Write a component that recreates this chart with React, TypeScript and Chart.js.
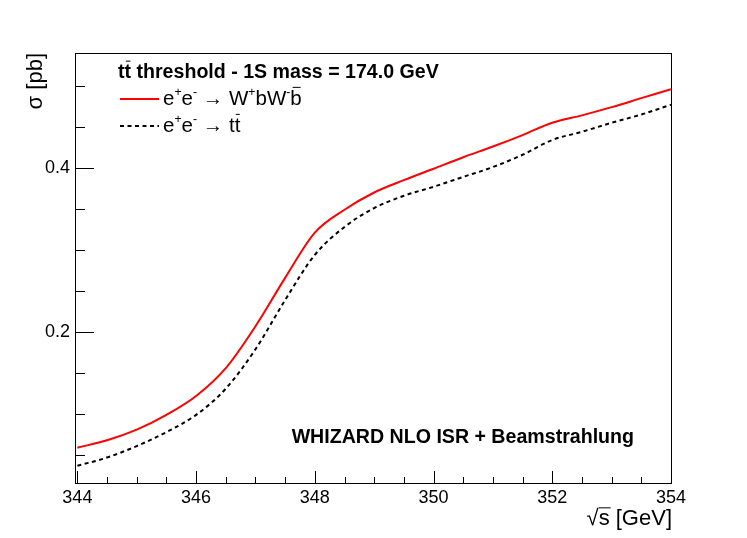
import React, { useEffect, useRef } from "react";
import { Chart, registerables } from "chart.js";

Chart.register(...registerables);

// ---- data ----
const energies = [344, 344.5, 345, 345.5, 346, 346.5, 347, 347.5, 348, 348.5, 349, 349.5, 350, 350.5, 351, 351.5, 352, 352.5, 353, 353.5, 354];
const wbwbXsec = [0.059, 0.068, 0.081, 0.099, 0.122, 0.156, 0.207, 0.266, 0.321, 0.349, 0.370, 0.385, 0.399, 0.413, 0.426, 0.440, 0.455, 0.464, 0.474, 0.485, 0.496];
const ttXsec = [0.037, 0.047, 0.061, 0.078, 0.099, 0.131, 0.179, 0.239, 0.294, 0.328, 0.351, 0.366, 0.377, 0.389, 0.401, 0.416, 0.434, 0.444, 0.455, 0.465, 0.477];
const xMajorTicks = [344, 346, 348, 350, 352, 354];
const xMinorTicks = [344, 344.5, 345, 345.5, 346, 346.5, 347, 347.5, 348, 348.5, 349, 349.5, 350, 350.5, 351, 351.5, 352, 352.5, 353, 353.5, 354];
const yMajorTicks = [0.2, 0.4];
const yMinorTicks = [0.05, 0.1, 0.15, 0.2, 0.25, 0.3, 0.35, 0.4, 0.45, 0.5];
const yTitle = "σ [pb]";
const xTitle = "√s [GeV]";
const footText = "WHIZARD NLO ISR + Beamstrahlung";

type Seg = { t: string; sup?: boolean; bar?: boolean };

const titleSegs: Seg[] = [{ t: "t" }, { t: "t", bar: true }, { t: " threshold - 1S mass = 174.0 GeV" }];
const legendWbWb: Seg[] = [
  { t: "e" }, { t: "+", sup: true }, { t: "e" }, { t: "-", sup: true },
  { t: " \u2192 W" }, { t: "+", sup: true }, { t: "bW" }, { t: "-", sup: true }, { t: "b", bar: true },
];
const legendTT: Seg[] = [
  { t: "e" }, { t: "+", sup: true }, { t: "e" }, { t: "-", sup: true },
  { t: " \u2192 t" }, { t: "t", bar: true },
];

const FONT = '"Liberation Sans", Arial, Helvetica, sans-serif';

function drawRich(ctx: CanvasRenderingContext2D, x: number, y: number, segs: Seg[], size: number, weight: string) {
  let cx = x;
  ctx.textAlign = "left";
  ctx.textBaseline = "alphabetic";
  for (const s of segs) {
    const sz = s.sup ? size * 0.6 : size;
    ctx.font = `${weight} ${sz}px ${FONT}`;
    const dy = s.sup ? -size * 0.45 : 0;
    ctx.fillText(s.t, cx, y + dy);
    const w = ctx.measureText(s.t).width;
    if (s.bar) {
      ctx.save();
      ctx.lineWidth = 1;
      ctx.beginPath();
      ctx.moveTo(cx + w * 0.2, y - size * 0.86);
      ctx.lineTo(cx + w * 0.9, y - size * 0.86);
      ctx.stroke();
      ctx.restore();
    }
    cx += w;
  }
}

const rootStylePlugin = {
  id: "rootStyle",
  afterDraw(chart: any) {
    const ctx: CanvasRenderingContext2D = chart.ctx;
    const { left, right, top, bottom } = chart.chartArea;
    const xs = chart.scales.x;
    const ys = chart.scales.y;
    ctx.save();
    ctx.strokeStyle = "#000";
    ctx.fillStyle = "#000";
    ctx.lineWidth = 1;
    // frame
    ctx.strokeRect(Math.round(left) + 0.5, Math.round(top) + 0.5, Math.round(right - left), Math.round(bottom - top));
    // x ticks (inward)
    ctx.beginPath();
    for (const v of xMinorTicks) {
      const px = Math.round(xs.getPixelForValue(v)) + 0.5;
      const len = xMajorTicks.includes(v) ? 12 : 6;
      ctx.moveTo(px, bottom);
      ctx.lineTo(px, bottom - len);
    }
    // y ticks (inward)
    for (const v of yMinorTicks) {
      const py = Math.round(ys.getPixelForValue(v)) + 0.5;
      const len = yMajorTicks.some((m) => Math.abs(m - v) < 1e-9) ? 19 : 10;
      ctx.moveTo(left, py);
      ctx.lineTo(left + len, py);
    }
    ctx.stroke();

    // header and legend
    drawRich(ctx, 118, 78, titleSegs, 19.6, "bold");
    ctx.save();
    ctx.strokeStyle = "#ff0000";
    ctx.lineWidth = 2;
    ctx.beginPath();
    ctx.moveTo(120, 99);
    ctx.lineTo(159, 99);
    ctx.stroke();
    ctx.strokeStyle = "#000";
    ctx.setLineDash([4, 3.5]);
    ctx.beginPath();
    ctx.moveTo(120, 126);
    ctx.lineTo(159, 126);
    ctx.stroke();
    ctx.restore();
    drawRich(ctx, 163, 105, legendWbWb, 20.5, "normal");
    drawRich(ctx, 163, 132, legendTT, 20.5, "normal");

    // foot text
    ctx.font = `bold 19.6px ${FONT}`;
    ctx.textAlign = "right";
    ctx.textBaseline = "alphabetic";
    ctx.fillText(footText, 634, 443);

    // x title
    ctx.font = `22px ${FONT}`;
    ctx.textAlign = "right";
    ctx.fillText(xTitle, 672, 525);
    const restW = ctx.measureText(xTitle.slice(1)).width;
    const sStart = 672 - restW;
    const sW = ctx.measureText("s").width;
    ctx.beginPath();
    ctx.moveTo(sStart, 525 - 22 * 0.78);
    ctx.lineTo(sStart + sW + 1, 525 - 22 * 0.78);
    ctx.stroke();

    // y title (rotated)
    ctx.save();
    ctx.translate(42, 53);
    ctx.rotate(-Math.PI / 2);
    ctx.font = `22px ${FONT}`;
    ctx.textAlign = "right";
    ctx.textBaseline = "alphabetic";
    ctx.fillText(yTitle, 0, 0);
    ctx.restore();

    ctx.restore();
  },
};

export default function App() {
  const ref = useRef<HTMLCanvasElement | null>(null);
  useEffect(() => {
    if (!ref.current) return;
    const chart = new Chart(ref.current, {
      type: "line",
      data: {
        datasets: [
          {
            label: "WbWb",
            data: energies.map((x, i) => ({ x, y: wbwbXsec[i] })),
            borderColor: "#ff0000",
            borderWidth: 2,
            pointRadius: 0,
            cubicInterpolationMode: "monotone",
            fill: false,
          },
          {
            label: "tt",
            data: energies.map((x, i) => ({ x, y: ttXsec[i] })),
            borderColor: "#000000",
            borderWidth: 2,
            borderDash: [4, 3.5],
            pointRadius: 0,
            cubicInterpolationMode: "monotone",
            fill: false,
          },
        ],
      },
      options: {
        animation: false,
        responsive: false,
        events: [],
        layout: { padding: { top: 53, right: 76, bottom: 0, left: 0 } },
        plugins: { legend: { display: false }, tooltip: { enabled: false } },
        scales: {
          x: {
            type: "linear",
            min: 343.96,
            max: 354.0,
            grid: { display: false, drawTicks: false },
            border: { display: false },
            ticks: {
              color: "#000",
              font: { family: FONT, size: 18 },
              padding: 4,
              maxRotation: 0,
              autoSkip: false,
            },
            afterBuildTicks: (s: any) => {
              s.ticks = xMajorTicks.map((v) => ({ value: v }));
            },
            afterFit: (s: any) => {
              s.height = 55;
            },
          },
          y: {
            type: "linear",
            min: 0.016,
            max: 0.54,
            grid: { display: false, drawTicks: false },
            border: { display: false },
            ticks: {
              color: "#000",
              font: { family: FONT, size: 18 },
              padding: 5,
              callback: (v: any) => Number(v).toFixed(1),
            },
            afterBuildTicks: (s: any) => {
              s.ticks = yMajorTicks.map((v) => ({ value: v }));
            },
            afterFit: (s: any) => {
              s.width = 75;
            },
          },
        },
      } as any,
      plugins: [rootStylePlugin],
    });
    return () => chart.destroy();
  }, []);
  return (
    <div style={{ position: "fixed", left: 0, top: 0, width: 747, height: 538, background: "#fff" }}>
      <canvas ref={ref} width={747} height={538} style={{ width: 747, height: 538, display: "block" }} />
    </div>
  );
}
